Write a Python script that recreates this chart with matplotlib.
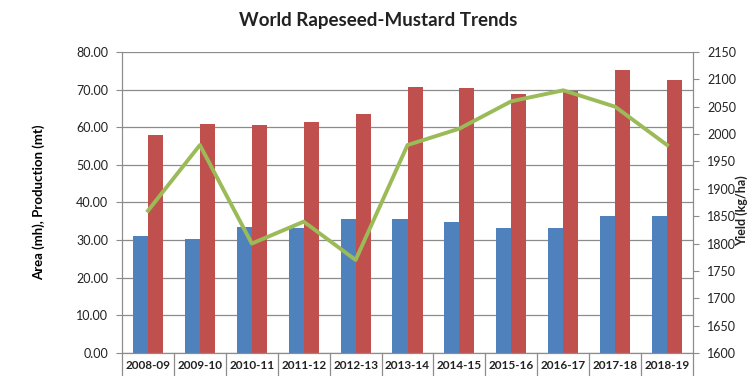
import numpy as np
import matplotlib
matplotlib.use("Agg")
import matplotlib.pyplot as plt

plt.rcParams['font.family'] = ['Lato', 'DejaVu Sans']

# data
seasons = ['2008-09', '2009-10', '2010-11', '2011-12', '2012-13', '2013-14',
           '2014-15', '2015-16', '2016-17', '2017-18', '2018-19']
area = [31.1, 30.4, 33.5, 33.2, 35.7, 35.5, 34.9, 33.1, 33.1, 36.5, 36.5]
production = [57.9, 60.8, 60.5, 61.3, 63.4, 70.7, 70.5, 68.8, 69.7, 75.1, 72.5]
yield_kg = [1860, 1980, 1800, 1840, 1770, 1980, 2010, 2060, 2080, 2050, 1980]

blue = '#4F81BD'
red = '#C0504D'
green = '#9BBB59'
grid_c = '#8C8C8C'

fig = plt.figure(figsize=(7.51, 3.76), dpi=100)
ax = fig.add_axes([0.1625, 0.0612, 0.7603, 0.8005])

x = np.arange(len(seasons))
w = 0.29
ax.bar(x - w / 2, area, w, color=blue, zorder=2)
ax.bar(x + w / 2, production, w, color=red, zorder=2)

ax.set_xlim(-0.5, len(seasons) - 0.5)
ax.set_ylim(0, 80)
ax.set_yticks(np.arange(0, 81, 10))
ax.set_yticklabels([f"{v:.2f}" for v in np.arange(0, 81, 10)])
ax.yaxis.grid(True, color=grid_c, linewidth=0.9, zorder=0)
ax.set_axisbelow(True)
ax.tick_params(axis='y', labelsize=9, length=4, color=grid_c, pad=6, colors='#222222')
ax.set_xticks([])
ax.spines['top'].set_visible(False)
for s in ['left', 'right', 'bottom']:
    ax.spines[s].set_color(grid_c)

# category "table" under the axis
for i, lab in enumerate(seasons):
    ax.text(i, -0.04, lab, transform=ax.get_xaxis_transform(), ha='center',
            va='center', fontsize=8.5, fontweight='bold', color='#222222')
for b in np.arange(-0.5, len(seasons), 1.0):
    ax.plot([b, b], [0, -0.08], transform=ax.get_xaxis_transform(),
            color=grid_c, linewidth=0.9, clip_on=False)

ax.set_ylabel('Area (mh), Production (mt)', fontsize=9.5, fontweight='bold', labelpad=22)

ax2 = ax.twinx()
ax2.plot(x, yield_kg, color=green, linewidth=2.8, zorder=3)
ax2.set_ylim(1600, 2150)
ax2.set_yticks(np.arange(1600, 2151, 50))
ax2.tick_params(axis='y', labelsize=9, length=4, color=grid_c, pad=6, colors='#222222')
ax2.spines['top'].set_visible(False)
for s in ['left', 'right', 'bottom']:
    ax2.spines[s].set_color(grid_c)

# right-hand axis title, placed by hand so it stays inside the figure
fig.text(0.988, 0.44, 'Yield (kg/ha)', rotation=90, ha='center', va='center',
         fontsize=9, fontweight='bold', color='#222222')

fig.text(0.503, 0.945, 'World Rapeseed-Mustard Trends', ha='center', va='center',
         fontsize=13.5, fontweight='bold', color='#222222')

fig.savefig('out.png', dpi=100)
